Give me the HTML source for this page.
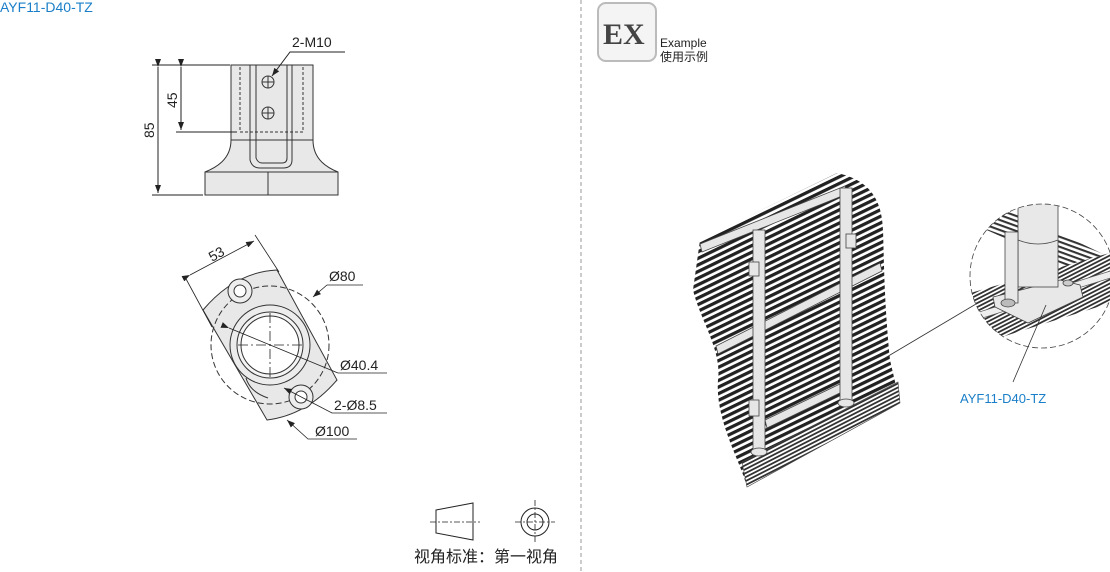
<!DOCTYPE html>
<html><head><meta charset="utf-8"><style>
html,body{margin:0;padding:0;background:#fff;width:1110px;height:572px;overflow:hidden}
svg{display:block}
text{font-family:"Liberation Sans","Noto Sans CJK SC",sans-serif}
</style></head><body>
<svg width="1110" height="572" viewBox="0 0 1110 572" xmlns="http://www.w3.org/2000/svg">
<defs>
<marker id="ar" markerWidth="8" markerHeight="6" refX="8" refY="3" orient="auto" markerUnits="userSpaceOnUse"><path d="M0,0 L8,3 L0,6 Z" fill="#222"/></marker>
<pattern id="hatch" width="20" height="6.6" patternUnits="userSpaceOnUse" patternTransform="skewY(-25.8)">
<rect width="20" height="6.6" fill="#fff"/><rect width="20" height="3.6" fill="#222"/></pattern>
<pattern id="hatch2" width="20" height="4" patternUnits="userSpaceOnUse" patternTransform="skewY(-27)">
<rect width="20" height="4" fill="#fff"/><rect width="20" height="2" fill="#333"/></pattern>
<pattern id="hatch3" width="20" height="5" patternUnits="userSpaceOnUse" patternTransform="skewY(20)">
<rect width="20" height="5" fill="#fff"/><rect width="20" height="2.2" fill="#333"/></pattern>
<clipPath id="mag"><circle cx="1042" cy="276" r="72"/></clipPath>
</defs>

<text x="0" y="12" font-size="14" fill="#1a7fc8">AYF11-D40-TZ</text>
<line x1="581" y1="0" x2="581" y2="572" stroke="#999" stroke-dasharray="4,3"/>

<!-- Front view -->
<g stroke="#333" stroke-width="1" fill="#e8e8e8">
<path d="M231,140 C231,160 215,168 205,172 L205,195 L338,195 L338,172 C328,168 313,160 313,140 Z"/>
<rect x="231" y="65" width="82" height="75"/>
<line x1="268" y1="172" x2="268" y2="195"/>
<line x1="205" y1="172" x2="338" y2="172"/>
<path d="M250,65 V160 Q252,168 260,168 H283 Q292,168 292,160 V65" fill="none"/>
<path d="M256,65 V158 Q258,163 262,163 H282 Q287,163 287,158 V65" fill="none"/>
<rect x="240" y="65" width="63" height="67" fill="none" stroke-dasharray="3,2"/>
<circle cx="268" cy="82" r="6" fill="none"/><circle cx="268" cy="113" r="6" fill="none"/>
<path d="M262,82 H274 M268,76 V88 M262,113 H274 M268,107 V119" fill="none"/>
</g>
<g stroke="#222" stroke-width="1" fill="none">
<line x1="152" y1="65" x2="230" y2="65"/><line x1="176" y1="132" x2="237" y2="132"/><line x1="152" y1="195" x2="203" y2="195"/>
<line x1="158" y1="67" x2="158" y2="193" marker-start="url(#ar)" marker-end="url(#ar)"/>
<line x1="181" y1="67" x2="181" y2="130" marker-start="url(#ar)" marker-end="url(#ar)"/>
<polyline points="345,52 290,52 272,76" marker-end="url(#ar)"/>
</g>
<text x="292" y="47" font-size="14" fill="#222">2-M10</text>
<text transform="translate(154,138) rotate(-90)" font-size="14" fill="#222">85</text>
<text transform="translate(177,108) rotate(-90)" font-size="14" fill="#222">45</text>

<!-- Bottom view -->
<g stroke="#333" stroke-width="1">
<path d="M203,310 Q235,272 277,270 L337,380 Q307,415 267,420 Z" fill="#e8e8e8"/>
<circle cx="270" cy="345" r="59" fill="none" stroke-dasharray="6,3"/>
<circle cx="270" cy="345" r="40" fill="#ececec"/>
<circle cx="270" cy="345" r="33" fill="#f4f4f4"/>
<circle cx="270" cy="345" r="29" fill="#fff"/>
<circle cx="240" cy="291" r="12" fill="#eee"/><circle cx="240" cy="291" r="6" fill="#fff"/>
<circle cx="301" cy="397" r="12" fill="#eee"/><circle cx="301" cy="397" r="6" fill="#fff"/>
<path d="M246,378 Q250,392 268,398" fill="none"/>
</g>
<g stroke="#222" stroke-width="0.8" fill="none">
<path d="M238,345 H302 M270,313 V377" stroke-dasharray="10,3,2,3"/>
<line x1="185" y1="277" x2="212" y2="327"/><line x1="255" y1="235" x2="279" y2="272"/>
<line x1="190" y1="275" x2="254" y2="241" marker-start="url(#ar)" marker-end="url(#ar)"/>
<polyline points="363,285 327,285 313,297" marker-end="url(#ar)"/>
<line x1="229" y1="328" x2="338" y2="373" marker-start="url(#ar)"/>
<polyline points="387,373 338,373"/>
<polyline points="387,413 332,413 284,388" marker-end="url(#ar)"/>
<polyline points="357,439 308,439 287,420" marker-end="url(#ar)"/>
</g>
<text transform="translate(212,262) rotate(-29)" font-size="14" fill="#222">53</text>
<text x="329" y="281" font-size="14" fill="#222">Ø80</text>
<text x="340" y="370" font-size="14" fill="#222">Ø40.4</text>
<text x="334" y="410" font-size="14" fill="#222">2-Ø8.5</text>
<text x="315" y="436" font-size="14" fill="#222">Ø100</text>

<!-- projection symbol -->
<g stroke="#222" stroke-width="1" fill="none">
<path d="M436,510 L473,503 V540 L436,533 Z"/>
<path d="M430,522 H480" stroke-dasharray="6,2,2,2" stroke-width="0.8"/>
<circle cx="535" cy="522" r="14"/><circle cx="535" cy="522" r="8"/>
<path d="M515,522 H555 M535,500 V544" stroke-dasharray="6,2,2,2" stroke-width="0.8"/>
</g>
<text x="414" y="562" font-size="16" fill="#222">视角标准：第一视角</text>

<!-- EX badge -->
<rect x="598" y="3" width="58" height="58" rx="8" fill="#f4f4f4" stroke="#bbb" stroke-width="2"/>
<text x="603" y="44" font-size="30" fill="#444" style="font-family:'Liberation Serif',serif;font-weight:bold">EX</text>
<text x="660" y="47" font-size="12" fill="#222">Example</text>
<text x="660" y="61" font-size="12" fill="#222">使用示例</text>

<!-- isometric fence -->
<path d="M700,240 L837,173 C870,180 882,200 883,230 C884,260 884,300 890,360 L900,403 L747,487 C740,460 715,420 718,380 C722,350 700,320 693,290 Z" fill="url(#hatch)"/>
<path d="M742,462 L898,382 L900,403 L747,487 Z" fill="url(#hatch2)" stroke="#444" stroke-width="0.6"/>
<g stroke="#444" stroke-width="0.8" fill="#e6e6e6">
<path d="M700,244 L845,186 L847,194 L702,252 Z"/>
<path d="M716,346 L880,263 L882,271 L718,354 Z"/>
<path d="M765,420 L842,383 L844,391 L767,428 Z"/>
<rect x="753" y="230" width="12" height="222"/>
<rect x="840" y="188" width="12" height="215"/>
<rect x="749" y="262" width="10" height="14"/>
<rect x="749" y="400" width="10" height="16"/>
<rect x="846" y="234" width="10" height="14"/>
<ellipse cx="759" cy="452" rx="8" ry="4"/>
<ellipse cx="846" cy="403" rx="8" ry="4"/>
</g>
<line x1="885" y1="358" x2="976" y2="304" stroke="#333" stroke-width="0.8"/>

<!-- magnified circle -->
<g clip-path="url(#mag)">
<rect x="960" y="200" width="160" height="160" fill="#fff"/>
<path d="M960,218 L1000,205 L1120,262 L1120,290 Z" fill="url(#hatch3)"/>
<path d="M960,296 L1120,250 L1120,300 L960,350 Z" fill="url(#hatch2)"/>
<path d="M960,318 L1120,268 L1120,275 L960,325 Z" fill="#eee" stroke="#555" stroke-width="0.6"/>
<g stroke="#444" stroke-width="0.8" fill="#e8e8e8">
<path d="M993,297 L1060,280 L1080,285 L1083,297 L1028,323 L995,307 Z"/>
<rect x="1018" y="195" width="40" height="92"/>
<path d="M1018,240 Q1038,248 1058,240" fill="none"/>
<path d="M1005,232 H1018 V303 H1005 Z"/>
<ellipse cx="1008" cy="303" rx="7" ry="4" fill="#bbb"/>
<ellipse cx="1068" cy="283" rx="5" ry="3" fill="#ccc"/>
</g>
</g>
<circle cx="1042" cy="276" r="72" fill="none" stroke="#444" stroke-width="0.8" stroke-dasharray="6,3"/>
<line x1="1013" y1="382" x2="1046" y2="305" stroke="#333" stroke-width="0.8"/>
<text x="960" y="403" font-size="13" fill="#1a7fc8">AYF11-D40-TZ</text>
</svg>
</body></html>
